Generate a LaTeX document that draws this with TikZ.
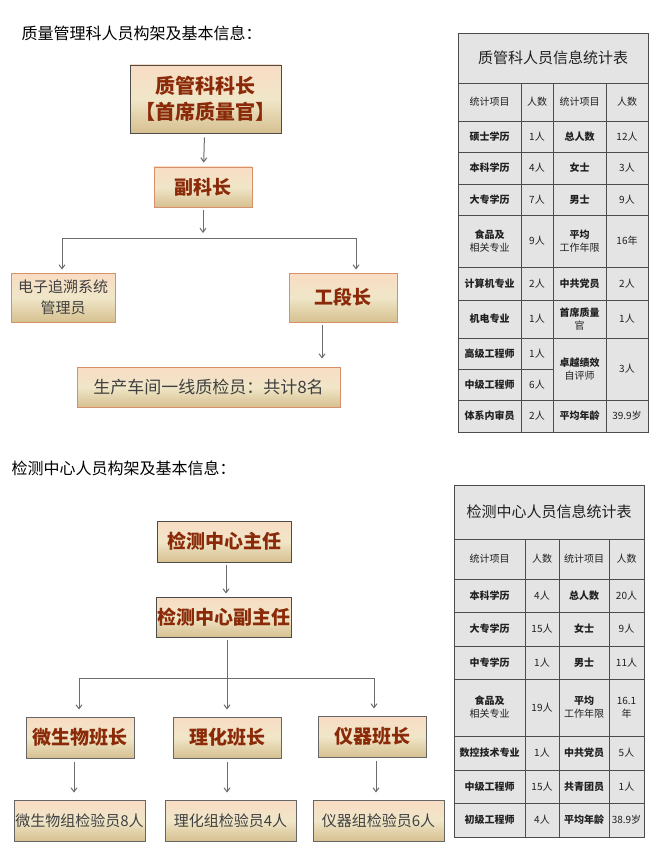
\documentclass[tikz,border=0pt]{standalone}
\usepackage{fontspec}
\newfontfamily\cjk{Noto Sans CJK SC}
\setmainfont{Noto Sans CJK SC}
\usetikzlibrary{arrows.meta}
\definecolor{boxtop}{HTML}{F8DCC4}
\definecolor{boxmid}{HTML}{F0E6C8}
\definecolor{boxbot}{HTML}{D6C090}
\definecolor{boxline}{HTML}{D8906A}
\definecolor{headtext}{HTML}{8A2A08}
\definecolor{celltext}{HTML}{202020}
\definecolor{cellfill}{HTML}{E4E4E4}
\tikzset{
  post/.style={draw=boxline, line width=0.9pt, top color=boxtop, bottom color=boxbot, middle color=boxmid, inner sep=0pt, align=center},
  head/.style={post, text=headtext, font=\bfseries\fontsize{19}{23}\selectfont},
  staff/.style={post, text=black!75, font=\fontsize{15}{19}\selectfont},
  link/.style={draw=gray!85!black, line width=1pt},
  arr/.style={link, -{Straight Barb[length=4pt,width=6pt]}},
  cell/.style={draw=black!70, fill=cellfill, line width=0.8pt, inner sep=0pt, align=center, text=celltext, font=\fontsize{10}{13}\selectfont},
}
\newcommand\tcell[5]{\node[cell, minimum width=#3pt-#1pt, minimum height=#4pt-#2pt] at ({(#1+#3)/2},{(#2+#4)/2}) {#5};}
\begin{document}
\begin{tikzpicture}[x=1pt, y=-1pt]
\useasboundingbox (0,0) rectangle (654,850);

% quality department
\node[anchor=west, font=\fontsize{16}{19}\selectfont] (t1) at (18,33) {质量管理科人员构架及基本信息：};
\node[head, draw=black!70, minimum width=151pt, minimum height=68pt, font=\bfseries\fontsize{20}{26}\selectfont] (chief) at (205.5,99) {质管科科长\\【首席质量官】};
\node[head, minimum width=98pt, minimum height=40pt] (vice) at (203,187) {副科长};
\node[staff, minimum width=104pt, minimum height=49pt, font=\fontsize{15}{21}\selectfont] (trace) at (63,297.5) {电子追溯系统\\管理员};
\node[head, minimum width=108pt, minimum height=49pt] (section) at (343,297.5) {工段长};
\node[staff, minimum width=263pt, minimum height=40pt, font=\fontsize{17}{20}\selectfont] (line) at (208.5,387) {生产车间一线质检员：共计8名};
\coordinate (j1) at (203,233);
\draw[arr, shorten <=4pt, shorten >=4pt] (chief) -- (vice);
\draw[arr, shorten <=3pt] (vice) -- (j1);
\draw[arr, shorten >=3pt] (62,238) -| (trace.north -| 62,0);
\draw[link] (62,238) -- (356,238);
\draw[arr, shorten >=3pt] (356,238) -- (section.north -| 356,0);
\draw[arr, shorten <=3pt, shorten >=8pt] (section.south -| 322,0) -- (line.north -| 322,0);

% testing center
\node[anchor=west, font=\fontsize{16}{19}\selectfont] (t2) at (8,468) {检测中心人员构架及基本信息：};
\node[head, draw=black!70, minimum width=134pt, minimum height=41pt] (dir) at (224,541.5) {检测中心主任};
\node[head, draw=black!70, minimum width=135pt, minimum height=40pt] (vdir) at (223.5,617) {检测中心副主任};
\node[head, draw=black!60, minimum width=108pt, minimum height=41pt] (micro) at (80,737.5) {微生物班长};
\node[head, draw=black!60, minimum width=108pt, minimum height=41pt] (chem) at (227,737.5) {理化班长};
\node[head, draw=black!60, minimum width=108pt, minimum height=41pt] (inst) at (372,736.5) {仪器班长};
\node[staff, draw=black!60, minimum width=131pt, minimum height=41pt] (microS) at (79.5,820.5) {微生物组检验员8人};
\node[staff, draw=black!60, minimum width=131pt, minimum height=41pt] (chemS) at (230.5,820.5) {理化组检验员4人};
\node[staff, draw=black!60, minimum width=131pt, minimum height=41pt] (instS) at (378.5,820.5) {仪器组检验员6人};
\draw[arr, shorten <=3pt, shorten >=3pt] (dir.south -| 226,0) -- (vdir.north -| 226,0);
\draw[arr, shorten <=3pt, shorten >=7pt] (vdir.south -| 227,0) -- (chem.north -| 227,0);
\draw[link] (79,678) -- (374,678);
\draw[arr, shorten >=7pt] (79,678) -- (micro.north -| 79,0);
\draw[arr, shorten >=7pt] (374,678) -- (inst.north -| 374,0);
\draw[arr, shorten <=4pt, shorten >=7pt] (micro.south -| 74,0) -- (microS.north -| 74,0);
\draw[arr, shorten <=4pt, shorten >=7pt] (chem.south -| 227,0) -- (chemS.north -| 227,0);
\draw[arr, shorten <=4pt, shorten >=7pt] (inst.south -| 376,0) -- (instS.north -| 376,0);

% table of quality department
\tcell{458}{33}{648}{83}{\fontsize{15}{18}\selectfont 质管科人员信息统计表}
\foreach \ya/\yb/\ca/\cb/\cc/\cd in {
  121/152/硕士学历/1人/总人数/12人,
  152/184/本科学历/4人/女士/3人,
  184/215/大专学历/7人/男士/9人,
  215/267/{食品及\\相关专业}/9人/{平均\\工作年限}/16年,
  267/300/计算机专业/2人/中共党员/2人,
  300/338/机电专业/1人/{首席质量\\官}/1人,
  400/432/体系内审员/2人/平均年龄/39.9岁}{
  \tcell{458}{\ya}{521}{\yb}{\bfseries\ca}
  \tcell{521}{\ya}{553}{\yb}{\cb}
  \tcell{553}{\ya}{606}{\yb}{\bfseries\cc}
  \tcell{606}{\ya}{648}{\yb}{\cd}
}
\tcell{458}{83}{521}{121}{统计项目}
\tcell{521}{83}{553}{121}{人数}
\tcell{553}{83}{606}{121}{统计项目}
\tcell{606}{83}{648}{121}{人数}
\tcell{458}{338}{521}{369}{\bfseries 高级工程师}
\tcell{521}{338}{553}{369}{1人}
\tcell{458}{369}{521}{400}{\bfseries 中级工程师}
\tcell{521}{369}{553}{400}{6人}
\tcell{553}{338}{606}{400}{\bfseries 卓越绩效\\自评师}
\tcell{606}{338}{648}{400}{3人}

% table of testing center
\tcell{454}{485}{644}{539}{\fontsize{15}{18}\selectfont 检测中心人员信息统计表}
\tcell{454}{539}{525}{579}{统计项目}
\tcell{525}{539}{559}{579}{人数}
\tcell{559}{539}{609}{579}{统计项目}
\tcell{609}{539}{644}{579}{人数}
\foreach \ya/\yb/\ca/\cb/\cc/\cd in {
  579/612/本科学历/4人/总人数/20人,
  612/646/大专学历/15人/女士/9人,
  646/679/中专学历/1人/男士/11人,
  679/736/{食品及\\相关专业}/19人/{平均\\工作年限}/{16.1\\年},
  736/770/数控技术专业/1人/中共党员/5人,
  770/803/中级工程师/15人/共青团员/1人,
  803/837/初级工程师/4人/平均年龄/38.9岁}{
  \tcell{454}{\ya}{525}{\yb}{\bfseries\ca}
  \tcell{525}{\ya}{559}{\yb}{\cb}
  \tcell{559}{\ya}{609}{\yb}{\bfseries\cc}
  \tcell{609}{\ya}{644}{\yb}{\cd}
}
\end{tikzpicture}
\end{document}
